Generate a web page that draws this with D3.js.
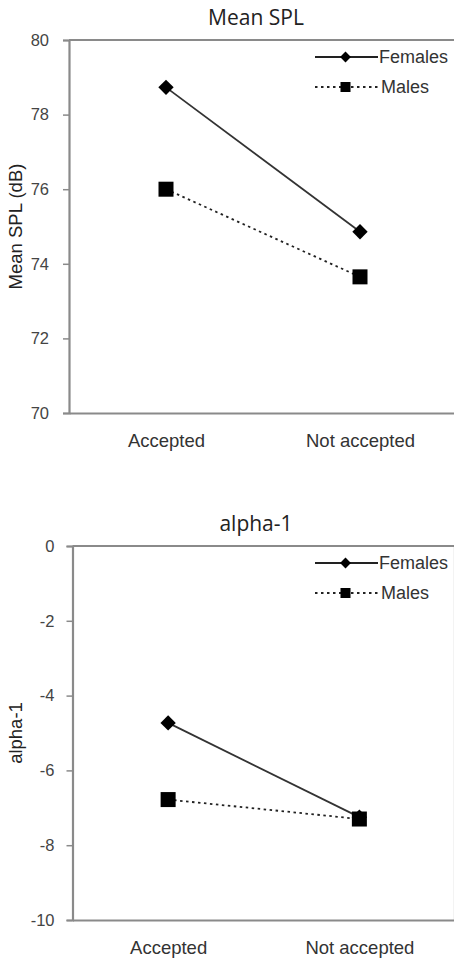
<!DOCTYPE html>
<html><head><meta charset="utf-8">
<script src="https://cdn.jsdelivr.net/npm/d3@7"></script>
<style>
html,body{margin:0;padding:0;background:#fff;}
svg{display:block;}
</style></head>
<body>
<svg id="c" width="454" height="960"></svg>
<script>
const categories = ["Accepted", "Not accepted"];
const seriesNames = ["Females", "Males"];
const splTitle = "Mean SPL";
const splAxisLabel = "Mean SPL (dB)";
const splFemales = [78.73, 74.86];
const splMales = [76.0, 73.65];
const splTicks = [70, 72, 74, 76, 78, 80];
const alphaTitle = "alpha-1";
const alphaAxisLabel = "alpha-1";
const alphaFemales = [-4.73, -7.25];
const alphaMales = [-6.78, -7.3];
const alphaTicks = [-10, -8, -6, -4, -2, 0];

const svg = d3.select("#c");
const sansFont = "'Liberation Sans', Arial, sans-serif";
const titleFont = "'Open Sans', 'Noto Sans', sans-serif";
const axisColor = "#8a8a8a";
const textColor = "#333";

function panel(cfg) {
  const g = svg.append("g");
  const x = d3.scalePoint().domain(categories).range([cfg.left, cfg.right]).padding(0.5);
  const y = d3.scaleLinear().domain([cfg.ticks[0], cfg.ticks[cfg.ticks.length - 1]]).range([cfg.bottom, cfg.top]);

  // frame top & right
  g.append("line").attr("x1", cfg.left).attr("x2", cfg.right).attr("y1", cfg.top).attr("y2", cfg.top)
    .attr("stroke", axisColor).attr("stroke-width", 2.2);
  g.append("line").attr("x1", cfg.right).attr("x2", cfg.right).attr("y1", cfg.top).attr("y2", cfg.bottom)
    .attr("stroke", axisColor).attr("stroke-width", 2.2);

  // y axis
  const ya = g.append("g").attr("transform", `translate(${cfg.left},0)`)
    .call(d3.axisLeft(y).tickValues(cfg.ticks).tickSize(6).tickPadding(cfg.tickPad).tickFormat(d => String(d)));
  ya.select(".domain").attr("stroke", axisColor).attr("stroke-width", 2.2);
  ya.selectAll(".tick line").attr("stroke", axisColor).attr("stroke-width", 1.5);
  ya.selectAll(".tick text").attr("fill", "#444").style("font-family", sansFont).style("font-size", "16.5px");

  // x axis
  const xa = g.append("g").attr("transform", `translate(0,${cfg.bottom})`)
    .call(d3.axisBottom(x).tickSize(0).tickPadding(21));
  xa.select(".domain").attr("stroke", axisColor).attr("stroke-width", 2.2);
  xa.selectAll(".tick text").attr("fill", textColor).style("font-family", sansFont).style("font-size", "18.5px");

  // title
  g.append("text").attr("x", 256).attr("y", cfg.titleY).attr("text-anchor", "middle")
    .attr("fill", "#222").style("font-family", titleFont).style("font-size", "21px").text(cfg.title);

  // y label
  g.append("text").attr("transform", `translate(${cfg.ylabX},${(cfg.top + cfg.bottom) / 2}) rotate(-90)`)
    .attr("text-anchor", "middle").attr("dy", "0.35em").attr("fill", "#222")
    .style("font-family", sansFont).style("font-size", "18.5px").text(cfg.ylabel);

  const line = d3.line().x((d, i) => x(categories[i])).y(d => y(d));

  // Males (dotted)
  g.append("path").datum(cfg.males).attr("d", line).attr("fill", "none")
    .attr("stroke", "#222").attr("stroke-width", 1.8).attr("stroke-dasharray", "2.5,3.5");
  // Females (solid)
  g.append("path").datum(cfg.females).attr("d", line).attr("fill", "none")
    .attr("stroke", "#333").attr("stroke-width", 1.8);

  const diamond = d3.symbol().type(d3.symbolDiamond2).size(150);
  g.selectAll(".fem").data(cfg.females).join("path")
    .attr("transform", (d, i) => `translate(${x(categories[i])},${y(d)})`)
    .attr("d", diamond).attr("fill", "#000");
  g.selectAll(".mal").data(cfg.males).join("rect")
    .attr("x", (d, i) => x(categories[i]) - 7.5).attr("y", d => y(d) - 7.5)
    .attr("width", 15).attr("height", 15).attr("fill", "#000");

  // legend
  const lx1 = 315, lx2 = 378, lxm = 345.5;
  const fy = cfg.top + 17, my = cfg.top + 47;
  g.append("line").attr("x1", lx1).attr("x2", lx2).attr("y1", fy).attr("y2", fy)
    .attr("stroke", "#222").attr("stroke-width", 1.8);
  g.append("path").attr("transform", `translate(${lxm},${fy})`)
    .attr("d", d3.symbol().type(d3.symbolDiamond2).size(75)).attr("fill", "#000");
  g.append("text").attr("x", lx2 + 1).attr("y", fy).attr("dy", "0.35em").attr("fill", textColor)
    .style("font-family", sansFont).style("font-size", "18px").text(seriesNames[0]);
  g.append("line").attr("x1", lx1).attr("x2", lx2).attr("y1", my).attr("y2", my)
    .attr("stroke", "#222").attr("stroke-width", 1.8).attr("stroke-dasharray", "2.5,3.5");
  g.append("rect").attr("x", lxm - 5).attr("y", my - 5).attr("width", 10).attr("height", 10).attr("fill", "#000");
  g.append("text").attr("x", lx2 + 3).attr("y", my).attr("dy", "0.35em").attr("fill", textColor)
    .style("font-family", sansFont).style("font-size", "18px").text(seriesNames[1]);
}

panel({left: 69, right: 457, top: 40, bottom: 413, ticks: splTicks, title: splTitle, titleY: 25, tickPad: 14,
       ylabel: splAxisLabel, ylabX: 16, females: splFemales, males: splMales});
panel({left: 72.5, right: 455, top: 546, bottom: 920, ticks: alphaTicks, title: alphaTitle, titleY: 531, tickPad: 12,
       ylabel: alphaAxisLabel, ylabX: 16, females: alphaFemales, males: alphaMales});
</script>
</body></html>
